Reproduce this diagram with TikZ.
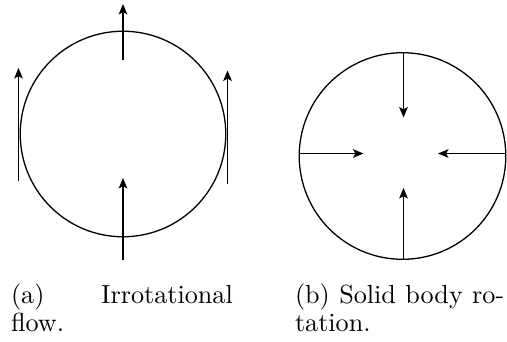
\documentclass[tikz,border=0pt]{standalone}
\usetikzlibrary{arrows.meta}
\begin{document}
\begin{tikzpicture}[x=0.3824pt,y=-0.3824pt,
  flowarrow/.style={line width=0.5pt,-{Stealth[length=4pt,width=3.3pt,inset=0.9pt]}},
  disk/.style={circle,draw,line width=0.5pt,inner sep=0pt,outer sep=0pt},
  captxt/.style={inner sep=0pt,font=\fontsize{10}{12}\selectfont}]
\useasboundingbox (0,0) rectangle (507,341);
% left: irrotational flow
\node[disk,minimum size=78.6pt] (c1) at (123,134) {};
\coordinate (a1s) at (123,60);   \coordinate (a1e) at (123,4);
\coordinate (a2s) at (123,260);  \coordinate (a2e) at (123,178);
\coordinate (a3s) at (18.5,181); \coordinate (a3e) at (18.5,68);
\coordinate (a4s) at (227.5,184);\coordinate (a4e) at (227.5,70.5);
\draw[flowarrow] (a1s) -- (a1e);
\draw[flowarrow] (a2s) -- (a2e);
\draw[flowarrow] (a3s) -- (a3e);
\draw[flowarrow] (a4s) -- (a4e);
% right: solid body rotation
\node[disk,minimum size=79pt] (c2) at (402.5,156) {};
\coordinate (b1s) at (403.5,52.7);  \coordinate (b1e) at (403.5,117.5);
\coordinate (b2s) at (403.5,259.3); \coordinate (b2e) at (403.5,188);
\coordinate (b3s) at (299.3,153.5); \coordinate (b3e) at (363.5,153.5);
\coordinate (b4s) at (505.3,153.5); \coordinate (b4e) at (438,153.5);
\draw[flowarrow] (b1s) -- (b1e);
\draw[flowarrow] (b2s) -- (b2e);
\draw[flowarrow] (b3s) -- (b3e);
\draw[flowarrow] (b4s) -- (b4e);
% captions
\node[captxt,anchor=base west] (capa1) at (10.5,303) {\makebox[84.8pt][s]{(a) Irrotational}};
\node[captxt,anchor=base west] (capa3) at (10.5,331.5) {flow.};
\node[captxt,anchor=base west] (capb1) at (294.5,303) {\makebox[80pt][s]{(b) Solid body ro-}};
\node[captxt,anchor=base west] (capb2) at (294.5,331.5) {tation.};
\end{tikzpicture}
\end{document}
